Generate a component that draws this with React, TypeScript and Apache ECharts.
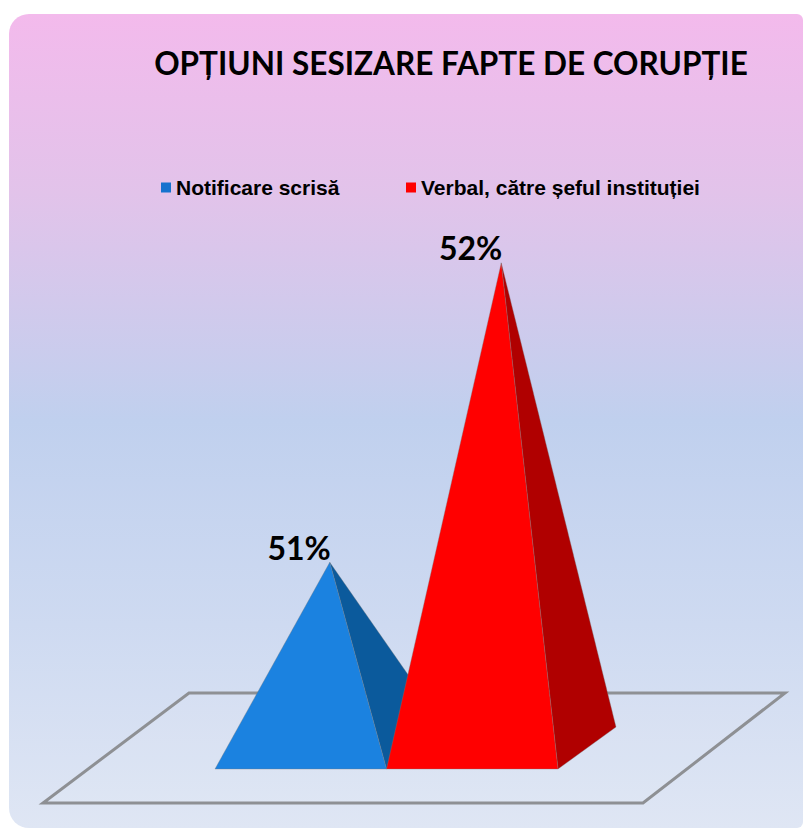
import React, { useEffect, useRef } from 'react';
import * as echarts from 'echarts';

const categories = ['Notificare scrisă', 'Verbal, către șeful instituției'];
const values = [51, 52];
const valueLabels = ['51%', '52%'];
const frontColors = ['#1B82E0', '#FF0000'];
const sideColors = ['#0B5A9C', '#B00000'];
const legendColors = ['#1672CE', '#FF0000'];
const titleText = 'OPȚIUNI SESIZARE FAPTE DE CORUPȚIE';

const AXIS_MIN = 50.38;
const AXIS_MAX = 52.2;
const DEPTH_X = 58;
const DEPTH_Y = 42;

export default function App() {
  const ref = useRef<HTMLDivElement>(null);
  useEffect(() => {
    document.body.style.margin = '0';
    const chart = echarts.init(ref.current!, null, { renderer: 'svg' });
    const series = categories.map((name, i) => ({
      type: 'custom',
      name,
      itemStyle: { color: legendColors[i] },
      data: [[i, values[i]]],
      renderItem: (params: any, api: any) => {
        const idx = api.value(0);
        const v = api.value(1);
        const top = api.coord([idx, v]);
        const base = api.coord([idx, AXIS_MIN]);
        const w = api.size([1, 0])[0];
        const cx = base[0];
        const by = base[1];
        const fl = [cx - w / 2, by + DEPTH_Y / 2];
        const fr = [cx + w / 2, by + DEPTH_Y / 2];
        const br = [cx + w / 2 + DEPTH_X, by - DEPTH_Y / 2];
        const apex = [cx + DEPTH_X / 2, top[1]];
        return {
          type: 'group',
          children: [
            {
              type: 'polygon',
              shape: { points: [fr, br, apex] },
              style: { fill: sideColors[i], stroke: 'rgba(120,120,120,0.35)', lineWidth: 1 },
            },
            {
              type: 'polygon',
              shape: { points: [fl, fr, apex] },
              style: { fill: frontColors[i], stroke: 'rgba(120,120,120,0.35)', lineWidth: 1 },
            },
            {
              type: 'text',
              x: apex[0] + 1,
              y: apex[1] - 15,
              style: {
                text: valueLabels[i],
                fontFamily: 'Lato',
                fontWeight: 'bold',
                fontSize: 32,
                fill: '#000',
                align: 'right',
                verticalAlign: 'middle',
              },
            },
          ],
        };
      },
    }));

    const legendLefts = [161, 406];
    chart.setOption({
      animation: false,
      title: {
        text: titleText,
        left: 451,
        top: 47,
        textAlign: 'center',
        padding: 0,
        textStyle: { fontFamily: 'Lato', fontWeight: 'bold', fontSize: 31.5, color: '#000' },
      },
      legend: categories.map((name, i) => ({
        data: [name],
        left: legendLefts[i],
        top: 177,
        padding: 0,
        itemWidth: 10,
        itemHeight: 10,
        icon: 'rect',
        selectedMode: false,
        textStyle: { fontFamily: 'Liberation Sans', fontWeight: 'bold', fontSize: 21, color: '#000' },
      })),
      graphic: [
        {
          type: 'rect',
          shape: { x: 9, y: 14, width: 794, height: 814, r: [20, 6, 6, 20] },
          style: {
            fill: {
              type: 'linear', x: 0, y: 0, x2: 0, y2: 1,
              colorStops: [
                { offset: 0, color: '#F3BAEC' },
                { offset: 0.22, color: '#E2C3EA' },
                { offset: 0.5, color: '#C0D0EE' },
                { offset: 0.75, color: '#CEDAF1' },
                { offset: 1, color: '#DFE6F4' },
              ],
            },
          },
        },
        {
          type: 'polygon',
          shape: { points: [[189, 693], [785, 693], [643, 803], [43, 803]] },
          style: { fill: 'rgba(255,255,255,0.05)', stroke: '#8E9094', lineWidth: 3 },
        },
      ],
      grid: { left: 215, right: 248, top: 203, bottom: 88 },
      xAxis: { type: 'category', data: categories, show: false },
      yAxis: { type: 'value', min: AXIS_MIN, max: AXIS_MAX, show: false },
      series,
    });
    return () => chart.dispose();
  }, []);
  return <div ref={ref} style={{ width: 806, height: 836 }} />;
}
